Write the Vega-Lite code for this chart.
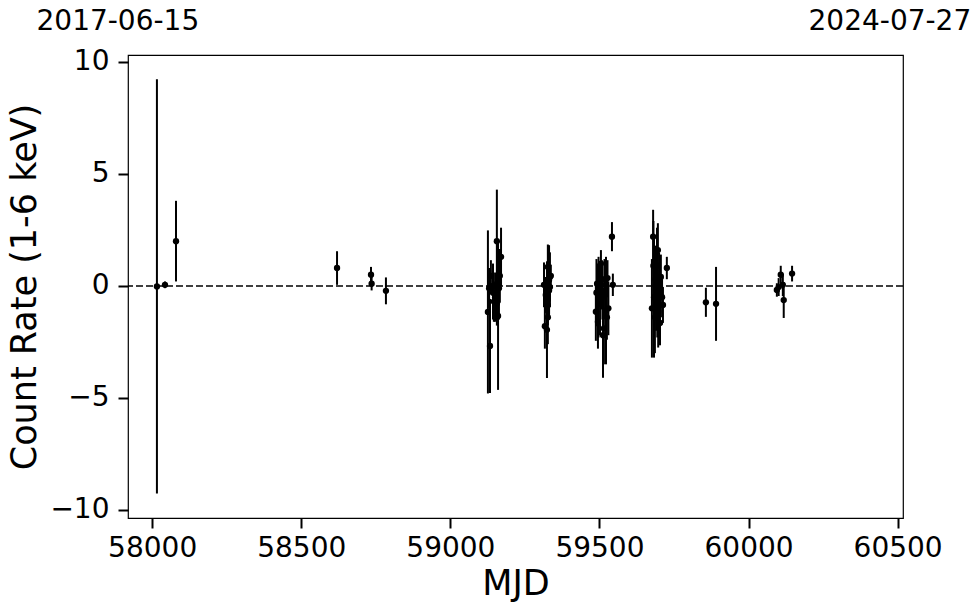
{
  "$schema": "https://vega.github.io/schema/vega-lite/v6.json",
  "width": 775,
  "height": 463,
  "autosize": "none",
  "padding": {"left": 128, "top": 55, "right": 77, "bottom": 95},
  "background": "white",
  "config": {
    "font": "DejaVu Sans",
    "view": {"stroke": "black", "strokeWidth": 1.2},
    "axis": {
      "labelFont": "DejaVu Sans",
      "titleFont": "DejaVu Sans",
      "labelFontSize": 28,
      "titleFontSize": 35,
      "titleFontWeight": "normal",
      "labelColor": "black",
      "titleColor": "black",
      "tickColor": "black",
      "tickSize": 10,
      "tickWidth": 2,
      "domain": false,
      "grid": false
    }
  },
  "datasets": {
    "obs": [
      {"mjd": 58016, "rate": -0.02, "err": 9.25},
      {"mjd": 58043, "rate": 0.05, "err": 0.15},
      {"mjd": 58080, "rate": 2.0, "err": 1.8},
      {"mjd": 58620, "rate": 0.8, "err": 0.75},
      {"mjd": 58734, "rate": 0.5, "err": 0.35},
      {"mjd": 58736, "rate": 0.1, "err": 0.3},
      {"mjd": 58784, "rate": -0.22, "err": 0.6},
      {"mjd": 59126, "rate": -1.16, "err": 3.64},
      {"mjd": 59130, "rate": -0.1, "err": 0.9},
      {"mjd": 59133, "rate": -2.68, "err": 2.1},
      {"mjd": 59136, "rate": 0.45, "err": 0.7},
      {"mjd": 59143, "rate": 0.0, "err": 1.0},
      {"mjd": 59143, "rate": -0.3, "err": 1.2},
      {"mjd": 59146, "rate": -0.7, "err": 0.9},
      {"mjd": 59150, "rate": -0.5, "err": 1.1},
      {"mjd": 59156, "rate": 2.0, "err": 2.3},
      {"mjd": 59156, "rate": -0.77, "err": 1.0},
      {"mjd": 59160, "rate": -1.34, "err": 3.3},
      {"mjd": 59163, "rate": -0.1, "err": 1.4},
      {"mjd": 59166, "rate": 0.45, "err": 1.2},
      {"mjd": 59170, "rate": 1.3, "err": 1.3},
      {"mjd": 59314, "rate": 0.05, "err": 1.0},
      {"mjd": 59317, "rate": -1.8, "err": 1.0},
      {"mjd": 59320, "rate": -0.4, "err": 0.8},
      {"mjd": 59324, "rate": -0.1, "err": 1.2},
      {"mjd": 59324, "rate": -1.96, "err": 2.15},
      {"mjd": 59327, "rate": 0.85, "err": 1.0},
      {"mjd": 59327, "rate": -0.85, "err": 0.9},
      {"mjd": 59327, "rate": -1.4, "err": 1.2},
      {"mjd": 59331, "rate": 0.27, "err": 1.55},
      {"mjd": 59331, "rate": -0.2, "err": 1.3},
      {"mjd": 59334, "rate": 0.4, "err": 1.1},
      {"mjd": 59334, "rate": -0.05, "err": 0.9},
      {"mjd": 59337, "rate": 0.45, "err": 0.5},
      {"mjd": 59488, "rate": -1.15, "err": 1.3},
      {"mjd": 59490, "rate": -0.3, "err": 1.5},
      {"mjd": 59492, "rate": 0.1, "err": 0.9},
      {"mjd": 59495, "rate": -1.6, "err": 1.2},
      {"mjd": 59497, "rate": -0.5, "err": 1.8},
      {"mjd": 59500, "rate": 0.2, "err": 0.8},
      {"mjd": 59502, "rate": -0.8, "err": 1.4},
      {"mjd": 59505, "rate": 1.0, "err": 0.6},
      {"mjd": 59508, "rate": 0.05, "err": 1.1},
      {"mjd": 59510, "rate": -0.2, "err": 1.3},
      {"mjd": 59512, "rate": -2.2, "err": 1.9},
      {"mjd": 59515, "rate": -1.9, "err": 1.6},
      {"mjd": 59517, "rate": 0.3, "err": 0.9},
      {"mjd": 59519, "rate": -0.4, "err": 1.0},
      {"mjd": 59522, "rate": -1.1, "err": 2.4},
      {"mjd": 59525, "rate": -1.4, "err": 1.0},
      {"mjd": 59527, "rate": 0.35, "err": 0.8},
      {"mjd": 59530, "rate": -1.0, "err": 1.2},
      {"mjd": 59542, "rate": 2.2, "err": 0.65},
      {"mjd": 59545, "rate": 0.05, "err": 0.5},
      {"mjd": 59676, "rate": -1.0, "err": 2.2},
      {"mjd": 59680, "rate": 2.2, "err": 1.2},
      {"mjd": 59681, "rate": 0.9, "err": 2.0},
      {"mjd": 59683, "rate": -0.5, "err": 2.7},
      {"mjd": 59686, "rate": -1.4, "err": 1.6},
      {"mjd": 59688, "rate": 0.3, "err": 1.5},
      {"mjd": 59690, "rate": -0.2, "err": 1.8},
      {"mjd": 59693, "rate": 0.9, "err": 1.7},
      {"mjd": 59694, "rate": -0.8, "err": 1.5},
      {"mjd": 59696, "rate": 1.6, "err": 1.2},
      {"mjd": 59697, "rate": -1.15, "err": 1.6},
      {"mjd": 59700, "rate": 0.1, "err": 1.4},
      {"mjd": 59703, "rate": -0.05, "err": 1.2},
      {"mjd": 59703, "rate": -1.65, "err": 1.0},
      {"mjd": 59706, "rate": 0.4, "err": 1.0},
      {"mjd": 59710, "rate": -0.5, "err": 0.9},
      {"mjd": 59713, "rate": -0.85, "err": 0.8},
      {"mjd": 59726, "rate": 0.8, "err": 0.5},
      {"mjd": 59857, "rate": -0.73, "err": 0.65},
      {"mjd": 59891, "rate": -0.8, "err": 1.65},
      {"mjd": 60095, "rate": -0.18, "err": 0.3},
      {"mjd": 60101, "rate": -0.05, "err": 0.4},
      {"mjd": 60108, "rate": 0.5, "err": 0.4},
      {"mjd": 60115, "rate": 0.05, "err": 0.5},
      {"mjd": 60118, "rate": -0.63, "err": 0.8},
      {"mjd": 60146, "rate": 0.55, "err": 0.35}
    ],
    "dates": [
      {"mjd": 57885, "rate": 11.79, "label": "2017-06-15"},
      {"mjd": 60474, "rate": 11.79, "label": "2024-07-27"}
    ],
    "zero": [{"level": 0}]
  },
  "layer": [
    {
      "data": {"name": "zero"},
      "mark": {"type": "rule", "color": "black", "strokeWidth": 1.6, "strokeDash": [7, 3]},
      "encoding": {"y": {"field": "level", "type": "quantitative", "title": "Count Rate (1-6 keV)"}}
    },
    {
      "data": {"name": "obs"},
      "mark": {"type": "errorbar", "color": "black", "rule": {"strokeWidth": 2}},
      "encoding": {
        "x": {"field": "mjd", "type": "quantitative", "title": "MJD"},
        "y": {"field": "rate", "type": "quantitative", "title": "Count Rate (1-6 keV)"},
        "yError": {"field": "err"}
      }
    },
    {
      "data": {"name": "obs"},
      "mark": {"type": "circle", "color": "black", "size": 40, "opacity": 1},
      "encoding": {
        "x": {
          "field": "mjd",
          "type": "quantitative",
          "scale": {"domain": [57919, 60518], "nice": false, "zero": false},
          "axis": {"title": "MJD", "values": [58000, 58500, 59000, 59500, 60000, 60500], "format": "d", "labelPadding": 6, "titlePadding": 4}
        },
        "y": {
          "field": "rate",
          "type": "quantitative",
          "scale": {"domain": [-10.36, 10.31], "nice": false, "zero": false},
          "axis": {"title": "Count Rate (1-6 keV)", "values": [-10, -5, 0, 5, 10], "labelPadding": 9, "titlePadding": 7}
        }
      }
    },
    {
      "data": {"name": "dates"},
      "mark": {"type": "text", "fontSize": 28, "color": "black", "font": "DejaVu Sans", "baseline": "middle", "align": "center"},
      "encoding": {
        "x": {"field": "mjd", "type": "quantitative", "title": "MJD"},
        "y": {"field": "rate", "type": "quantitative", "title": "Count Rate (1-6 keV)"},
        "text": {"field": "label"}
      }
    }
  ]
}
